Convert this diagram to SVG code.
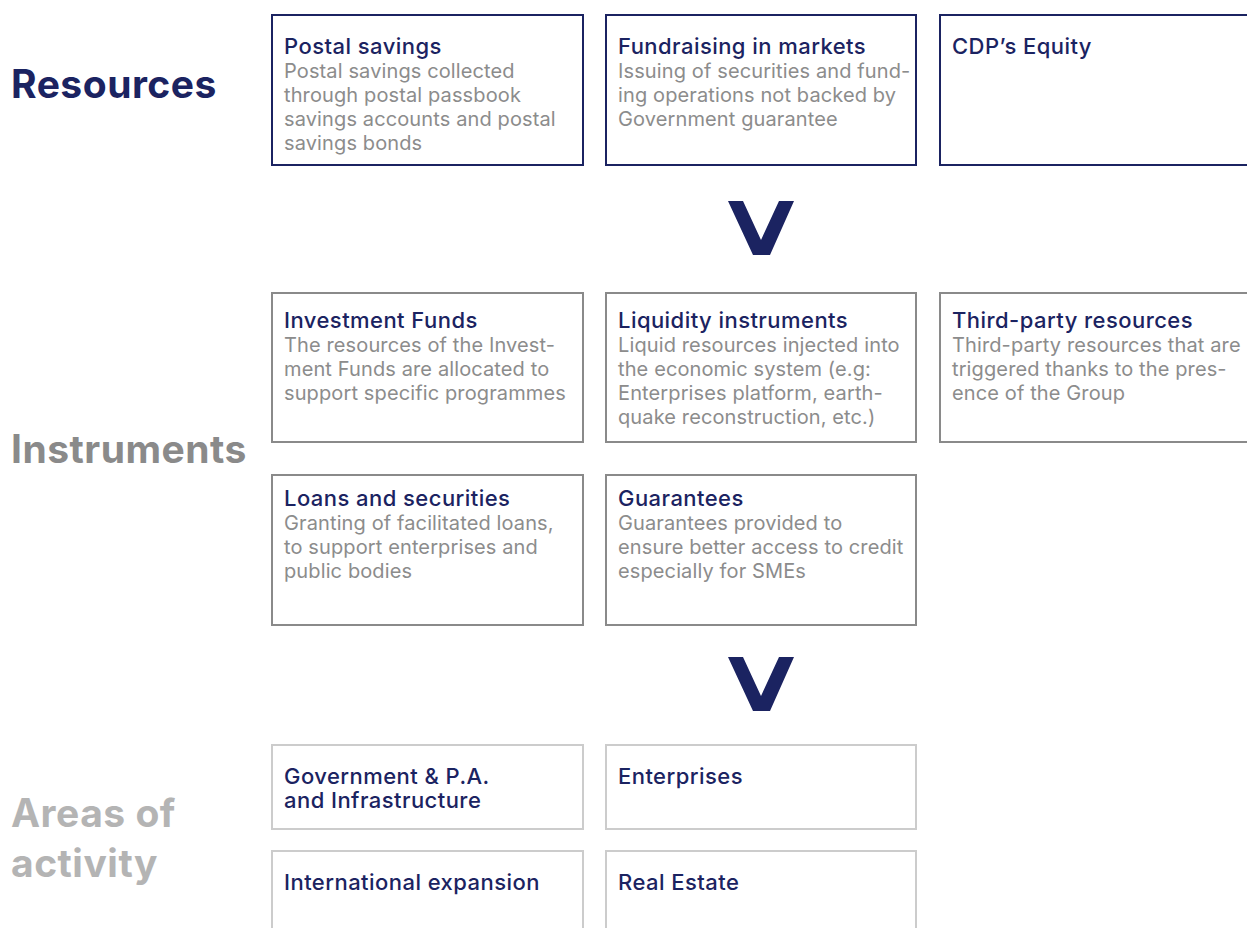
<svg xmlns="http://www.w3.org/2000/svg" width="1247" height="928" viewBox="0 0 1247 928">
<style>
.bg{fill:#ffffff}
.r1{fill:#fff;stroke:#1b2361;stroke-width:2}
.r2{fill:#fff;stroke:#8a8a8a;stroke-width:2}
.r3{fill:#fff;stroke:#cccccc;stroke-width:2}
.t{font-family:Inter,"Liberation Sans",Arial,sans-serif;font-size:22px;font-weight:500;letter-spacing:0.45px;fill:#1b2361}
.d{font-family:Inter,"Liberation Sans",Arial,sans-serif;font-size:20px;letter-spacing:0.12px;fill:#8c8c8c}
.h{font-family:Inter,"Liberation Sans",Arial,sans-serif;font-size:39px;font-weight:700;letter-spacing:0.5px}
.arrow{fill:#1b2361}
</style>
<rect class="bg" x="0" y="0" width="1247" height="928"/>
<g id="labels">
<text class="h" x="11" y="98" fill="#1b2361">Resources</text>
<text class="h" x="11" y="463" fill="#8a8a8a">Instruments</text>
<text class="h" x="11" y="827" fill="#b4b4b4">Areas of</text>
<text class="h" x="11" y="877" fill="#b4b4b4">activity</text>
</g>
<g id="postal-savings">
<rect class="r1" x="272" y="15" width="311" height="150"/>
<text class="t" x="284" y="54">Postal savings</text>
<text class="d" x="284" y="78">Postal savings collected</text>
<text class="d" x="284" y="102">through postal passbook</text>
<text class="d" x="284" y="126">savings accounts and postal</text>
<text class="d" x="284" y="150">savings bonds</text>
</g>
<g id="fundraising">
<rect class="r1" x="606" y="15" width="310" height="150"/>
<text class="t" x="618" y="54">Fundraising in markets</text>
<text class="d" x="618" y="78">Issuing of securities and fund-</text>
<text class="d" x="618" y="102">ing operations not backed by</text>
<text class="d" x="618" y="126">Government guarantee</text>
</g>
<g id="cdp-equity">
<rect class="r1" x="940" y="15" width="320" height="150"/>
<text class="t" x="952" y="54">CDP’s Equity</text>
</g>
<g id="investment-funds">
<rect class="r2" x="272" y="293" width="311" height="149"/>
<text class="t" x="284" y="328">Investment Funds</text>
<text class="d" x="284" y="352">The resources of the Invest-</text>
<text class="d" x="284" y="376">ment Funds are allocated to</text>
<text class="d" x="284" y="400">support specific programmes</text>
</g>
<g id="liquidity">
<rect class="r2" x="606" y="293" width="310" height="149"/>
<text class="t" x="618" y="328">Liquidity instruments</text>
<text class="d" x="618" y="352">Liquid resources injected into</text>
<text class="d" x="618" y="376">the economic system (e.g:</text>
<text class="d" x="618" y="400">Enterprises platform, earth-</text>
<text class="d" x="618" y="424">quake reconstruction, etc.)</text>
</g>
<g id="third-party">
<rect class="r2" x="940" y="293" width="320" height="149"/>
<text class="t" x="952" y="328">Third-party resources</text>
<text class="d" x="952" y="352">Third-party resources that are</text>
<text class="d" x="952" y="376">triggered thanks to the pres-</text>
<text class="d" x="952" y="400">ence of the Group</text>
</g>
<g id="loans">
<rect class="r2" x="272" y="475" width="311" height="150"/>
<text class="t" x="284" y="506">Loans and securities</text>
<text class="d" x="284" y="530">Granting of facilitated loans,</text>
<text class="d" x="284" y="554">to support enterprises and</text>
<text class="d" x="284" y="578">public bodies</text>
</g>
<g id="guarantees">
<rect class="r2" x="606" y="475" width="310" height="150"/>
<text class="t" x="618" y="506">Guarantees</text>
<text class="d" x="618" y="530">Guarantees provided to</text>
<text class="d" x="618" y="554">ensure better access to credit</text>
<text class="d" x="618" y="578">especially for SMEs</text>
</g>
<g id="government">
<rect class="r3" x="272" y="745" width="311" height="84"/>
<text class="t" x="284" y="784">Government &amp; P.A.</text>
<text class="t" x="284" y="808">and Infrastructure</text>
</g>
<g id="enterprises">
<rect class="r3" x="606" y="745" width="310" height="84"/>
<text class="t" x="618" y="784">Enterprises</text>
</g>
<g id="international">
<rect class="r3" x="272" y="851" width="311" height="100"/>
<text class="t" x="284" y="890">International expansion</text>
</g>
<g id="real-estate">
<rect class="r3" x="606" y="851" width="310" height="100"/>
<text class="t" x="618" y="890">Real Estate</text>
</g>
<g id="connectors">
<polygon class="arrow" points="728,201 743,201 761,240 779,201 794,201 770,255 753,255"/>
<polygon class="arrow" points="728,657 743,657 761,696 779,657 794,657 770,711 753,711"/>
</g>
</svg>
